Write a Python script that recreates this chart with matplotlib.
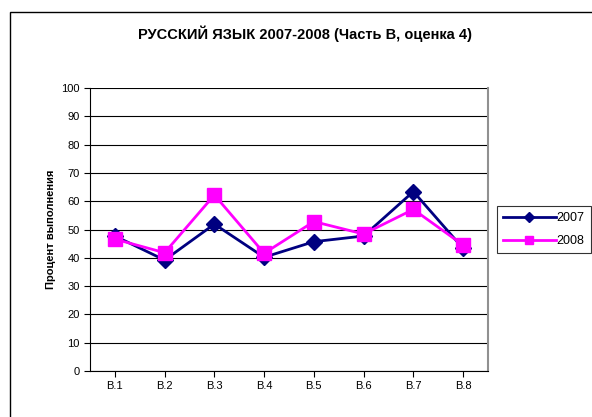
import matplotlib
matplotlib.use("Agg")
import matplotlib.pyplot as plt
from matplotlib.patches import Rectangle

categories = ["B.1", "B.2", "B.3", "B.4", "B.5", "B.6", "B.7", "B.8"]
values_2007 = [47.7, 39.2, 51.9, 40.2, 45.7, 47.7, 63.4, 43.3]
values_2008 = [46.6, 41.8, 62.2, 41.6, 52.8, 48.4, 57.1, 44.5]
yticks = list(range(0, 101, 10))

plt.rcParams["font.family"] = ["Liberation Sans", "DejaVu Sans"]

fig = plt.figure(figsize=(5.92, 4.17), dpi=100)
fig.patches.append(Rectangle((10 / 592, -0.1), 1.0, 1 - 12 / 417 + 0.1,
                             transform=fig.transFigure, fill=False,
                             edgecolor="black", linewidth=1.0))

ax = fig.add_axes([90 / 592, 1 - 371 / 417, 398 / 592, 283 / 417])
x = range(len(categories))
ax.plot(x, values_2007, color="#000080", marker="D", markersize=8,
        linewidth=2, label="2007")
ax.plot(x, values_2008, color="#ff00ff", marker="s", markersize=10,
        linewidth=2, label="2008")

ax.set_xlim(-0.5, len(categories) - 0.5)
ax.set_ylim(0, 100)
ax.set_yticks(yticks)
ax.set_xticks(list(x))
ax.set_xticklabels(categories)
ax.tick_params(labelsize=8, length=4, direction="out")
ax.yaxis.grid(True, color="black", linewidth=0.8)
ax.set_axisbelow(True)
ax.spines["top"].set_visible(False)
ax.spines["right"].set_color("#909090")
ax.spines["right"].set_linewidth(1.5)
ax.set_ylabel("Процент выполнения", fontsize=8, fontweight="bold")

fig.text(305 / 592, 1 - 34 / 417, "РУССКИЙ ЯЗЫК 2007-2008 (Часть В, оценка 4)",
         ha="center", va="center", fontsize=10.5, fontweight="bold")

leg = ax.legend(loc="center left", bbox_to_anchor=(1.022, 0.5), fontsize=9,
                frameon=True, fancybox=False, edgecolor="black",
                handlelength=4.2, borderaxespad=0, labelspacing=0.9,
                markerscale=0.6, handletextpad=0.1, borderpad=0.5)
leg.get_frame().set_linewidth(0.8)

fig.savefig("out.png", dpi=100)
